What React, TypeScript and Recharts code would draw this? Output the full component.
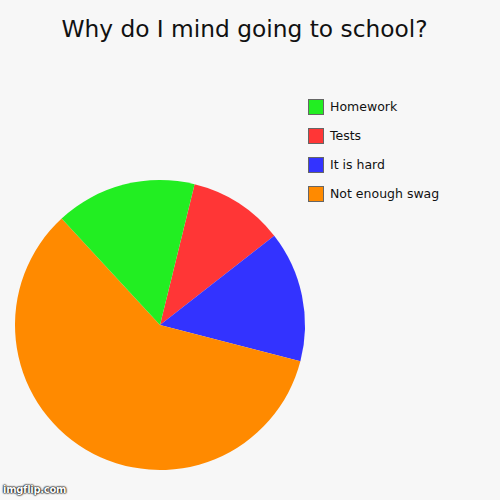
import { PieChart, Pie, Cell, Legend } from "recharts"

// Slices in clockwise drawing order (starting just right of 12 o'clock)
const sliceNames = ["Tests", "It is hard", "Not enough swag", "Homework"]
const sliceValues = [10.6, 14.6, 59.1, 15.7]
const sliceColors = ["#ff3636", "#3333ff", "#ff8a00", "#22ee22"]

// Legend is listed in this order, top to bottom
const legendNames = ["Homework", "Tests", "It is hard", "Not enough swag"]

const title = "Why do I mind going to school?"

const data = sliceNames.map((name, i) => ({ name, value: sliceValues[i] }))

const colorOf = (name) => sliceColors[sliceNames.indexOf(name)]

const FONT = "'DejaVu Sans', Verdana, sans-serif"

function LegendBox() {
  return (
    <div style={{ fontFamily: FONT, fontSize: 12.5, color: "#111" }}>
      {legendNames.map((name) => (
        <div key={name} style={{ display: "flex", alignItems: "center", height: 29 }}>
          <div
            style={{
              width: 14,
              height: 14,
              backgroundColor: colorOf(name),
              border: "1px solid #666",
              marginRight: 6,
            }}
          />
          <span>{name}</span>
        </div>
      ))}
    </div>
  )
}

export default function App() {
  // start angle: 13.8 deg clockwise from north
  const start = 90 - 13.8
  return (
    <div
      style={{
        position: "absolute",
        left: 0,
        top: 0,
        width: 500,
        height: 500,
        background: "#f7f7f7",
        overflow: "hidden",
      }}
    >
      <div
        style={{
          position: "absolute",
          top: 15,
          left: 0,
          width: 489,
          textAlign: "center",
          fontFamily: FONT,
          fontSize: 23.3,
          color: "#111",
        }}
      >
        {title}
      </div>
      <PieChart width={500} height={500}>
        <Pie
          data={data}
          dataKey="value"
          nameKey="name"
          cx={155}
          cy={320}
          outerRadius={145}
          innerRadius={0}
          startAngle={start}
          endAngle={start - 360}
          stroke="none"
          isAnimationActive={false}
        >
          {data.map((d, i) => (
            <Cell key={d.name} fill={sliceColors[i]} />
          ))}
        </Pie>
        <Legend
          content={<LegendBox />}
          layout="vertical"
          wrapperStyle={{ position: "absolute", left: 308, top: 92, width: 180 }}
        />
      </PieChart>
      <div
        style={{
          position: "absolute",
          left: 3,
          top: 484,
          fontFamily: "'DejaVu Sans', sans-serif",
          fontSize: 10,
          fontWeight: "bold",
          color: "#fff",
          textShadow: "0 0 2px #000, 0 0 2px #000, 0 0 1px #000",
          letterSpacing: -0.3,
        }}
      >
        imgflip.com
      </div>
    </div>
  )
}
